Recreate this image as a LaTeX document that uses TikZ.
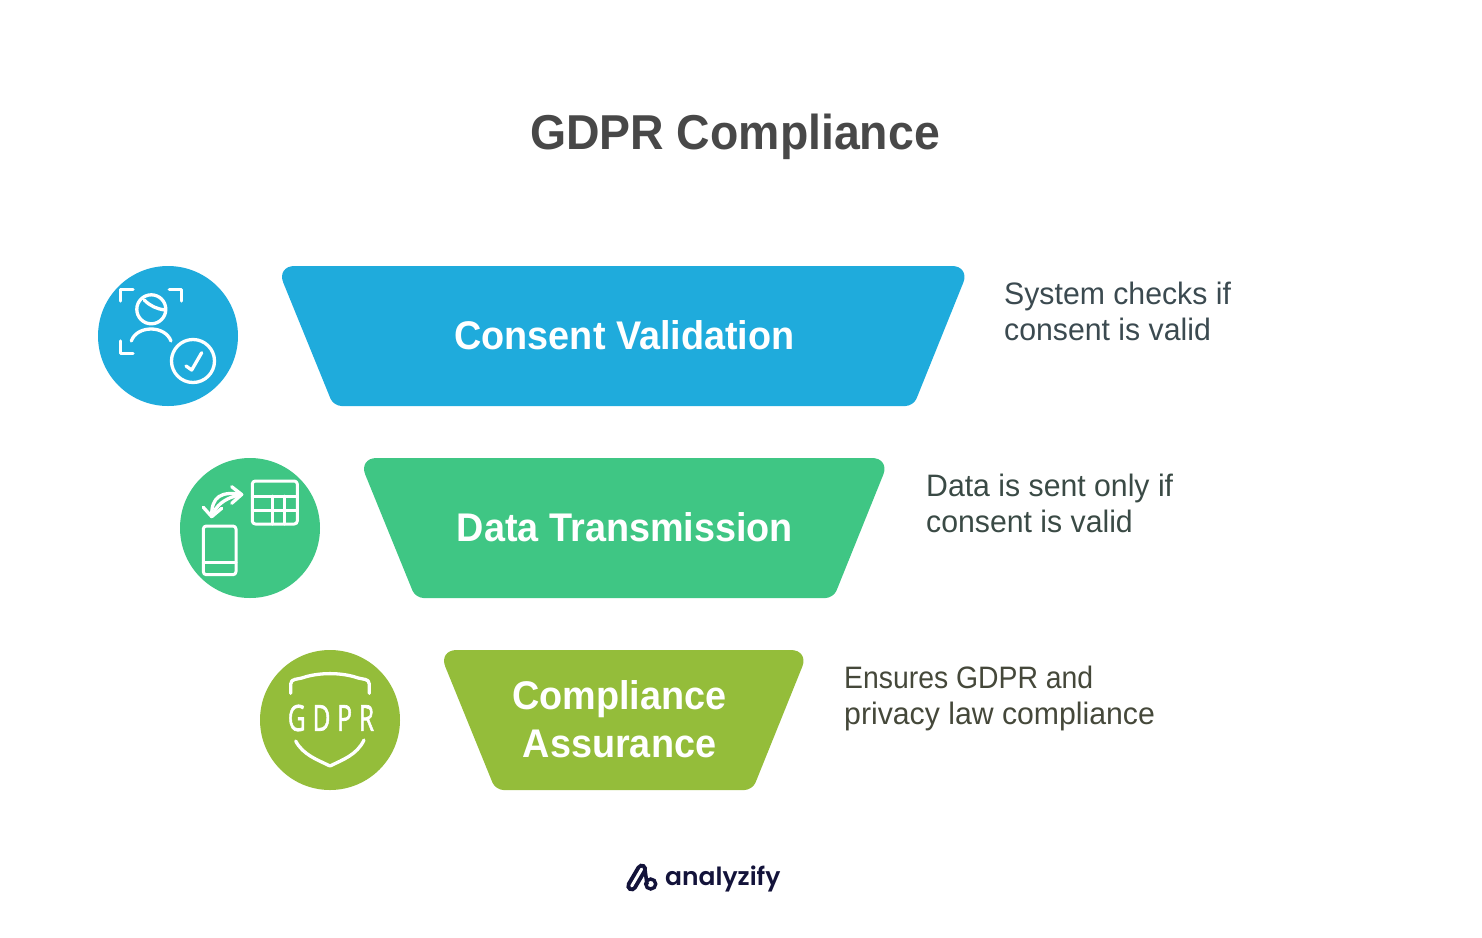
\documentclass[tikz,border=0pt]{standalone}
\usepackage{fontspec}
\setmainfont{Liberation Sans}
\newfontfamily\logofont{Poppins SemiBold}
\newfontfamily\iconfont[LetterSpace=28,FakeBold=2]{Open Sans}
\definecolor{consentcol}{HTML}{1FABDC}
\definecolor{datacol}{HTML}{3FC684}
\definecolor{assurecol}{HTML}{94BD3A}
\definecolor{logocol}{HTML}{13133A}
\definecolor{titlecol}{HTML}{484848}
\definecolor{consentink}{HTML}{3B4A50}
\definecolor{dataink}{HTML}{3A4A45}
\definecolor{assureink}{HTML}{45483A}
\tikzset{
        x=1pt, y=-1pt,
        badge/.style={circle, inner sep=0pt, minimum size=140pt},
        stage/.style={text=white, align=center, inner sep=0pt, font=\fontsize{40}{48}\selectfont\bfseries\addfontfeature{FakeStretch=0.945}},
        note/.style={anchor=west, align=left, inner sep=0pt, font=\fontsize{31}{36}\selectfont\addfontfeature{FakeStretch=0.975}},
        icon/.style={draw=white, line width=3.3pt, line cap=round, line join=round},
        thinicon/.style={icon, line width=3pt}
          }
\begin{document}
\begin{tikzpicture}
        \useasboundingbox (0,0) rectangle (1482,937);
        \node[text=titlecol, font=\fontsize{49}{58}\selectfont\bfseries\addfontfeature{FakeStretch=0.947}] (title) at (735,137) {GDPR Compliance};

        % funnel
        \fill[consentcol] (620,266) [rounded corners=18pt] -- (970,266) [rounded corners=8pt] -- (913.5,406) -- (333.5,406) [rounded corners=18pt] -- (276.5,266) [sharp corners] -- cycle;
        \fill[datacol] (620,458) [rounded corners=18pt] -- (890,458) [rounded corners=8pt] -- (833.5,598) -- (415.5,598) [rounded corners=18pt] -- (358.5,458) [sharp corners] -- cycle;
        \fill[assurecol] (620,650) [rounded corners=18pt] -- (809,650) [rounded corners=8pt] -- (752.5,790) -- (495.5,790) [rounded corners=18pt] -- (438.5,650) [sharp corners] -- cycle;
        \node[stage] (consent) at (624.5,335) {Consent Validation};
        \node[stage] (transmission) at (625,527) {Data Transmission};
        \node[stage] (assurance) at (619.5,719) {Compliance\\Assurance};

        \node[note, text=consentink] (consentnote) at (1004,311) {System checks if\\consent is valid};
        \node[note, text=dataink] (transmissionnote) at (926,503) {Data is sent only if\\consent is valid};
        \node[note, text=assureink] (assurancenote) at (844,698) {{\addfontfeature{FakeStretch=0.915}Ensures GDPR and}\\privacy law compliance};

        % consent icon
        \node[badge, fill=consentcol] (consentbadge) at (168,336) {};
        \draw[icon] (120.7,301) -- (120.7,289.3) -- (133,289.3);
        \draw[icon] (169.3,289.3) -- (181.7,289.3) -- (181.7,301);
        \draw[icon] (120.7,341) -- (120.7,353.7) -- (133,353.7);
        \node[circle, icon, inner sep=0pt, minimum size=29pt] (head) at (151.3,309.3) {};
        \draw[icon] (144.3,300) .. controls (150,306) and (157,309) .. (165,310);
        \draw[icon] (131.3,341) .. controls (137,325) and (165,325) .. (171,341);
        \node[circle, icon, inner sep=0pt, minimum size=43pt] (tick) at (193,361) {};
        \draw[icon] (186,366) -- (191.7,370) -- (201.7,352.7);

        % transmission icon
        \node[badge, fill=datacol] (transmissionbadge) at (250,528) {};
        \draw[thinicon, rounded corners=3pt] (252.3,481) rectangle (297.3,524);
        \draw[thinicon] (252.3,496) -- (297.3,496);
        \draw[thinicon] (252.3,510) -- (297.3,510);
        \draw[thinicon] (272.3,496) -- (272.3,524);
        \draw[thinicon] (284,496) -- (284,524);
        \draw[thinicon, rounded corners=3pt] (203.3,526) rectangle (236,574.7);
        \draw[thinicon] (203.3,562.7) -- (236,562.7);
        \draw[icon] (231.7,486.7) -- (241.7,494.5) -- (231.7,503.3);
        \draw[icon] (203.3,507.3) -- (211.7,516.7) -- (221.7,508.3);
        \draw[icon] (241.7,494.5) .. controls (222,491) and (211,496) .. (211.7,516.7);
        \draw[icon] (238,495.5) .. controls (229,497) and (218,503) .. (214,512);

        % assurance icon
        \node[badge, fill=assurecol] (assurancebadge) at (330,720) {};
        \draw[icon] (290.7,693.3) -- (290.7,684) .. controls (291,678) and (297,680) .. (305,677) .. controls (320,672.5) and (340,672.5) .. (355,677) .. controls (363,680) and (369,678) .. (369.3,684) -- (369.3,693.3);
        \draw[icon] (295.7,741) .. controls (303,755) and (318,760) .. (330,766) .. controls (342,760) and (357,755) .. (364,740);
        \node[text=white, inner sep=0pt, xscale=0.68, font=\fontsize{36}{40}\selectfont\iconfont] (gdprmark) at (331,718) {GDPR};

        % logo
        \draw[logocol, line width=11pt, line cap=round] (631.7,886) -- (641.7,869);
        \draw[white, line width=3pt, line cap=round] (631.7,886) -- (641.7,869);
        \draw[logocol, line width=3.6pt, line cap=round] (645,870) -- (647,884);
        \node[circle, draw=logocol, line width=3.4pt, inner sep=0pt, minimum size=10pt] (logoring) at (650.7,884) {};
        \node[text=logocol, anchor=west, inner sep=0pt, font=\fontsize{25}{30}\selectfont\logofont] (logotext) at (665,879) {analyzify};
      \end{tikzpicture}
\end{document}
